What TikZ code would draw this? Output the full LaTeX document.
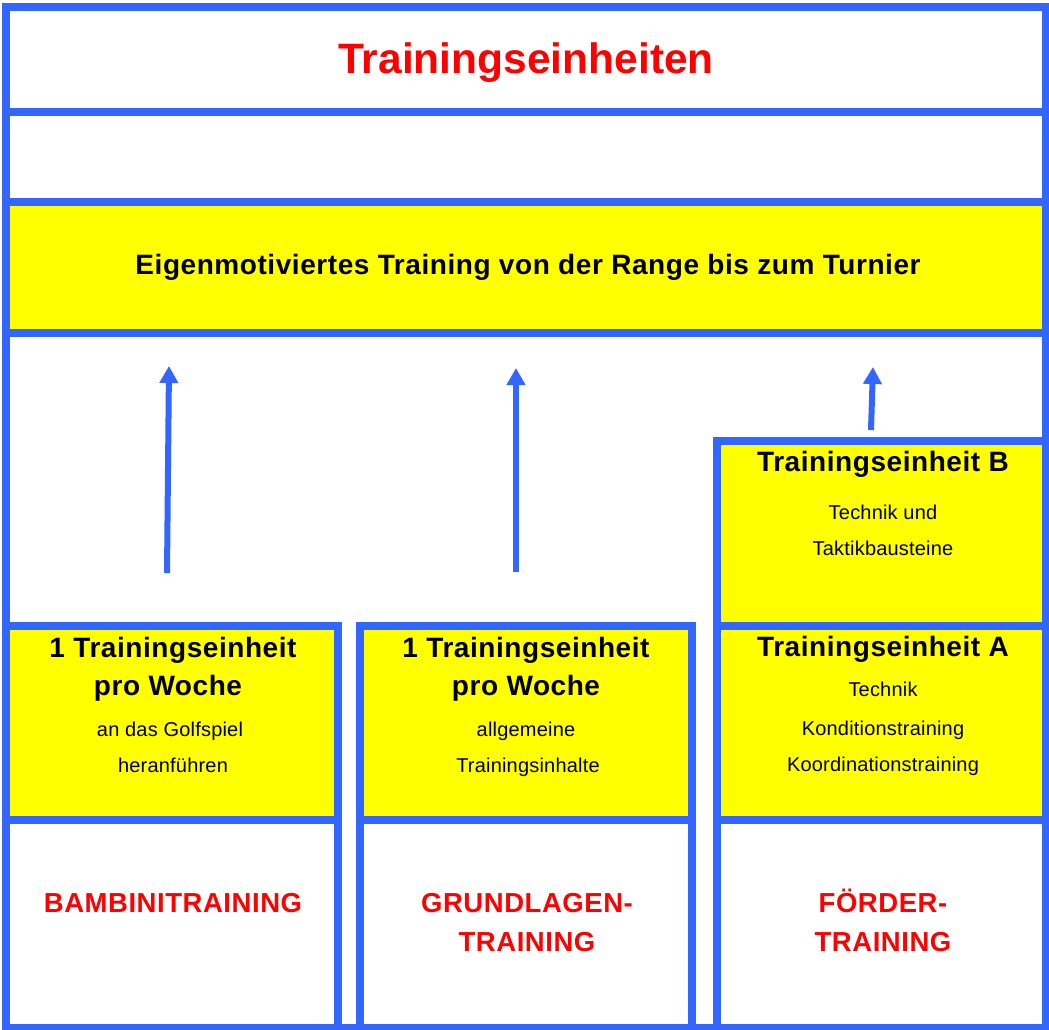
\documentclass[tikz,border=0pt]{standalone}
\usepackage{fontspec}
\setmainfont{Liberation Sans}
\newfontfamily\spacedbold[LetterSpace=2]{Liberation Sans}
\newfontfamily\spacedreg[LetterSpace=1]{Liberation Sans}
\usetikzlibrary{arrows.meta}
\definecolor{frameblue}{HTML}{3366FF}
\definecolor{boxyellow}{HTML}{FFFF00}
\definecolor{labelred}{HTML}{FF0000}
\begin{document}
\begin{tikzpicture}[x=1pt,y=-1pt,
  frame/.style={draw=frameblue,line width=8pt,inner sep=0pt,outer sep=0pt},
  ybox/.style={frame,fill=boxyellow},
  wbox/.style={frame,fill=white},
  txt/.style={inner sep=0pt,anchor=base},
  titletxt/.style={txt,text=labelred,font=\fontsize{42.5}{50}\selectfont\bfseries},
  headtxt/.style={txt,text=black,font=\spacedbold\fontsize{28}{32}\selectfont\bfseries},
  smalltxt/.style={txt,text=black,font=\spacedreg\fontsize{20}{24}\selectfont},
  redtxt/.style={txt,text=labelred,font=\spacedbold\fontsize{27.5}{32}\selectfont\bfseries},
  uparrow/.style={draw=frameblue,line width=6pt,-{Triangle[width=18pt,length=17pt]}}
]
\useasboundingbox (0,0) rectangle (1049,1029);
\fill[white] (0,0) rectangle (1049,1029);

% outer rows
\node[wbox,minimum width=1040pt,minimum height=695pt] (lower) at (526,680.5) {};
\node[wbox,minimum width=1040pt,minimum height=105pt] (titlebox) at (526,59.5) {};
\node[wbox,minimum width=1040pt,minimum height=90pt] (emptybox) at (526,157) {};
\node[ybox,minimum width=1040pt,minimum height=131pt] (goalbox) at (526,267.5) {};

% columns
\node[ybox,minimum width=332pt,minimum height=194pt] (lefty) at (172,723) {};
\node[wbox,minimum width=332pt,minimum height=208pt] (leftw) at (172,924) {};
\node[ybox,minimum width=332pt,minimum height=194pt] (midy) at (526,723) {};
\node[wbox,minimum width=332pt,minimum height=208pt] (midw) at (526,924) {};
\node[ybox,minimum width=329pt,minimum height=185pt] (rightb) at (881.5,533.5) {};
\node[ybox,minimum width=329pt,minimum height=194pt] (righta) at (881.5,723) {};
\node[wbox,minimum width=329pt,minimum height=208pt] (rightw) at (881.5,924) {};

% texts
\node[titletxt] (title) at (526,73) {Trainingseinheiten};
\node[headtxt] (goal) at (528,274.7) {Eigenmotiviertes Training von der Range bis zum Turnier};

\node[headtxt] (l1) at (173,657.3) {1 Trainingseinheit};
\node[headtxt] (l2) at (168,695.3) {pro Woche};
\node[smalltxt] (l3) at (170,736) {an das Golfspiel};
\node[smalltxt] (l4) at (173,772) {heranführen};

\node[headtxt] (m1) at (526,657.3) {1 Trainingseinheit};
\node[headtxt] (m2) at (526,695.3) {pro Woche};
\node[smalltxt] (m3) at (526,736) {allgemeine};
\node[smalltxt] (m4) at (528,772) {Trainingsinhalte};

\node[headtxt] (b1) at (883,471) {Trainingseinheit B};
\node[smalltxt] (b2) at (883,519) {Technik und};
\node[smalltxt] (b3) at (883,555) {Taktikbausteine};

\node[headtxt] (a1) at (883,656) {Trainingseinheit A};
\node[smalltxt] (a2) at (883,696.7) {Technik};
\node[smalltxt] (a3) at (883,735) {Konditionstraining};
\node[smalltxt] (a4) at (883,771.7) {Koordinationstraining};

\node[redtxt] (bambini) at (173,912.5) {BAMBINITRAINING};
\node[redtxt] (grund1) at (527,912.5) {GRUNDLAGEN-};
\node[redtxt] (grund2) at (527,951) {TRAINING};
\node[redtxt] (foerd1) at (883,912) {FÖRDER-};
\node[redtxt] (foerd2) at (883,951) {TRAINING};

% arrows
\coordinate (s1) at (167,573);
\coordinate (e1) at (169,366);
\coordinate (s2) at (516,572);
\coordinate (e2) at (516,368);
\coordinate (s3) at (871,430);
\coordinate (e3) at (873,367);
\draw[uparrow] (s1) -- (e1);
\draw[uparrow] (s2) -- (e2);
\draw[uparrow] (s3) -- (e3);
\end{tikzpicture}
\end{document}
